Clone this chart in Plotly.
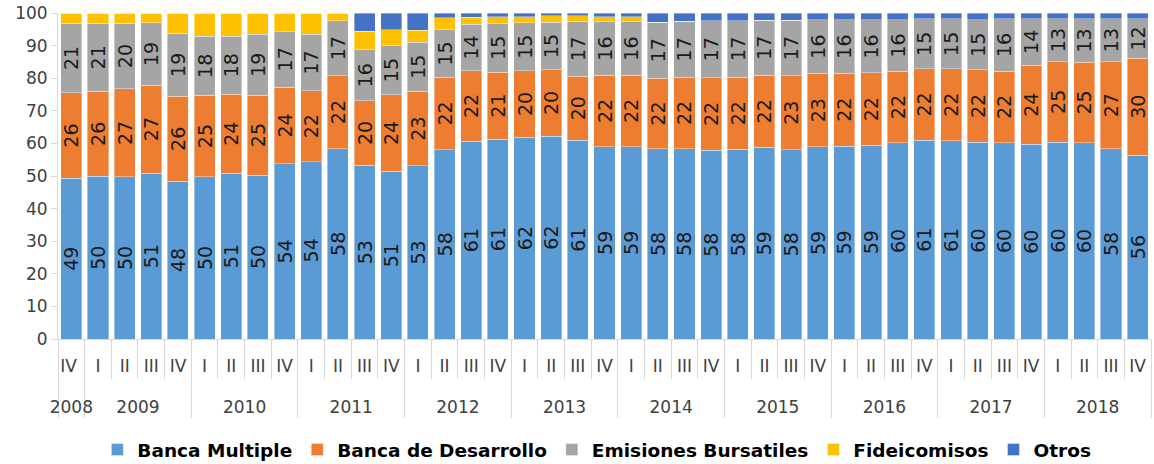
import plotly.graph_objects as go

# ---- data (percent shares) ----
# (2008 "IV " carries a trailing space so Plotly keeps I..IV order inside later years)
years = ["2008"] + [str(y) for y in range(2009, 2019) for _ in range(4)]
quarters = ["IV "] + ["I", "II", "III", "IV"] * 10

banca_multiple = [49.3, 49.9, 49.7, 50.9, 48.4, 49.7, 50.9, 50.3, 53.7, 54.4, 58.4, 53.3,
                  51.4, 53.1, 58.1, 60.7, 61.3, 61.9, 62.2, 61.0, 59.0, 59.0, 58.3, 58.4,
                  57.9, 58.2, 58.8, 58.1, 58.9, 59.2, 59.4, 60.2, 61.0, 60.8, 60.4, 60.2,
                  59.7, 60.4, 60.2, 58.3, 56.4]
banca_desarrollo = [26.2, 26.1, 27.0, 27.0, 26.0, 25.1, 24.2, 24.5, 23.6, 21.8, 22.4, 19.8,
                    23.6, 22.9, 22.2, 21.6, 20.6, 20.4, 20.4, 19.6, 21.9, 21.9, 21.7, 21.9,
                    22.3, 22.1, 22.1, 22.6, 22.6, 22.3, 22.2, 21.9, 21.9, 22.1, 22.2, 22.0,
                    24.3, 24.7, 24.7, 26.8, 29.7]
emisiones = [21.4, 20.8, 20.2, 19.1, 19.4, 18.0, 17.8, 18.7, 17.0, 17.3, 16.8, 15.6,
             15.0, 15.1, 14.6, 14.3, 14.9, 14.7, 14.6, 16.8, 16.4, 16.4, 17.2, 17.1,
             17.4, 17.4, 16.9, 17.1, 16.4, 16.4, 16.3, 15.9, 15.3, 15.3, 15.4, 16.0,
             14.3, 13.2, 13.4, 13.2, 12.2]
fideicomisos = [3.1, 3.2, 3.1, 3.0, 6.2, 7.2, 7.1, 6.5, 5.7, 6.5, 2.4, 5.7,
                4.9, 3.6, 3.6, 2.1, 2.1, 1.9, 1.9, 1.7, 1.6, 1.6, 0, 0,
                0, 0, 0, 0, 0, 0, 0, 0, 0, 0, 0, 0,
                0, 0, 0, 0, 0]
otros = [0, 0, 0, 0, 0, 0, 0, 0, 0, 0, 0, 5.6,
         5.1, 5.3, 1.5, 1.3, 1.1, 1.1, 0.9, 0.9, 1.1, 1.1, 2.8, 2.6,
         2.4, 2.3, 2.2, 2.2, 2.1, 2.1, 2.1, 2.0, 1.8, 1.8, 2.0, 1.8,
         1.7, 1.7, 1.7, 1.7, 1.7]

series = [
    ("Banca Multiple", banca_multiple, "#5B9BD5", True),
    ("Banca de Desarrollo", banca_desarrollo, "#ED7D31", True),
    ("Emisiones Bursatiles", emisiones, "#A5A5A5", True),
    ("Fideicomisos", fideicomisos, "#FFC000", False),
    ("Otros", otros, "#4472C4", False),
]

FONT = "DejaVu Sans"
# an invisible second line under each quarter label leaves room for the year row
pad_line = "<br><span style='font-size:44px'>\u00a0</span>"
x = [years, [q + pad_line for q in quarters]]

fig = go.Figure()
for name, vals, color, labeled in series:
    fig.add_trace(go.Bar(
        name=name, x=x, y=vals,
        marker=dict(color=color, line=dict(color="rgba(255,255,255,0.5)", width=0.75)),
        texttemplate="%{y:.0f}" if labeled else None,
        textposition="inside" if labeled else "none",
        insidetextanchor="middle",
        textangle=-90,
        constraintext="none",
        textfont=dict(family=FONT, size=19, color="#1a1a1a"),
        hoverinfo="skip",
    ))

fig.update_layout(
    barmode="stack",
    bargap=0.21,
    width=1154, height=464,
    margin=dict(l=58, r=3, t=13, b=125),
    paper_bgcolor="white", plot_bgcolor="white",
    font=dict(family=FONT, color="#404040"),
    legend=dict(orientation="h", x=0.493, xanchor="center",
                yref="container", y=0.03, yanchor="middle",
                font=dict(family=FONT, size=18.5, color="#000000", weight="bold"),
                itemwidth=30, traceorder="normal"),
    showlegend=True,
)
fig.update_yaxes(range=[0, 100], dtick=10, showgrid=False, showline=True,
                 linecolor="#D9D9D9", linewidth=1, ticks="outside", ticklen=6,
                 tickcolor="#D9D9D9", tickfont=dict(family=FONT, size=17, color="#404040"),
                 zeroline=False, automargin=False)
fig.update_xaxes(type="multicategory", range=[-0.5, 40.5], autorange=False,
                 showgrid=False, showline=True, automargin=False, tickangle=0,
                 linecolor="#D9D9D9", linewidth=1, ticks="outside", tickson="boundaries",
                 ticklen=39, tickcolor="#D9D9D9", ticklabelstandoff=12,
                 showdividers=True, dividercolor="#D9D9D9", dividerwidth=1,
                 tickfont=dict(family=FONT, size=17, color="#404040"))

fig.write_html("out.html", config={"displayModeBar": False},
               post_script="document.body.style.margin='0';")
